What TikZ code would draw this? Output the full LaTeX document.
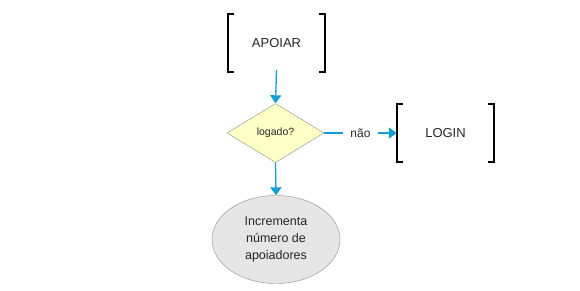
\documentclass[tikz,border=0pt]{standalone}
\usepackage{fontspec}
\setmainfont{Liberation Sans}
\usetikzlibrary{shapes.geometric,arrows.meta}

\definecolor{seta}{HTML}{119FD4}
\definecolor{texto}{HTML}{262626}
\definecolor{borda}{HTML}{8C8C8C}
\definecolor{amarelo}{HTML}{FFFFC8}
\definecolor{cinza}{HTML}{E6E6E6}

\tikzset{
  tela/.style={minimum width=97pt,minimum height=58pt,inner sep=0pt,
    text=texto,font=\fontsize{13}{15}\selectfont},
  colchete/.style={line width=1.8pt,black},
  fluxo/.style={seta,line width=1.3pt,-{Triangle[length=8pt,width=11pt]}},
}

\begin{document}
\begin{tikzpicture}[x=1pt,y=-1pt]

\useasboundingbox (0,0) rectangle (580,290);

\node[tela]
(A)
at (276.5,43)
{APOIAR};

\node[diamond,draw=borda,fill=amarelo,inner sep=0pt,
  minimum width=97pt,minimum height=59pt,
  text=texto,font=\fontsize{10.5}{12}\selectfont]
(L)
at (275.5,133)
{logado?};

\node[tela]
(G)
at (445.5,133)
{LOGIN};

\node[ellipse,draw=borda,fill=cinza,inner sep=0pt,
  minimum width=128pt,minimum height=88pt,align=center,
  text=texto,font=\fontsize{12.5}{17}\selectfont]
(I)
at (276,239.5)
{Incrementa\\número de\\apoiadores};

% colchetes
\draw[colchete]
([xshift=6pt]A.north west) -| (A.south west) -- ++(6pt,0);
\draw[colchete]
([xshift=-6pt]A.north east) -| (A.south east) -- ++(-6pt,0);
\draw[colchete]
([xshift=6pt]G.north west) -| (G.south west) -- ++(6pt,0);
\draw[colchete]
([xshift=-6pt]G.north east) -| (G.south east) -- ++(-6pt,0);

\draw[fluxo]
([yshift=2pt]A.south)
--
(L.north);

\draw[fluxo]
(L.east)
--
node[fill=white,inner sep=7pt,text=texto,font=\fontsize{12}{14}\selectfont]{não}
(G.west);

\draw[fluxo]
(L.south)
--
(I.north);

\end{tikzpicture}
\end{document}
